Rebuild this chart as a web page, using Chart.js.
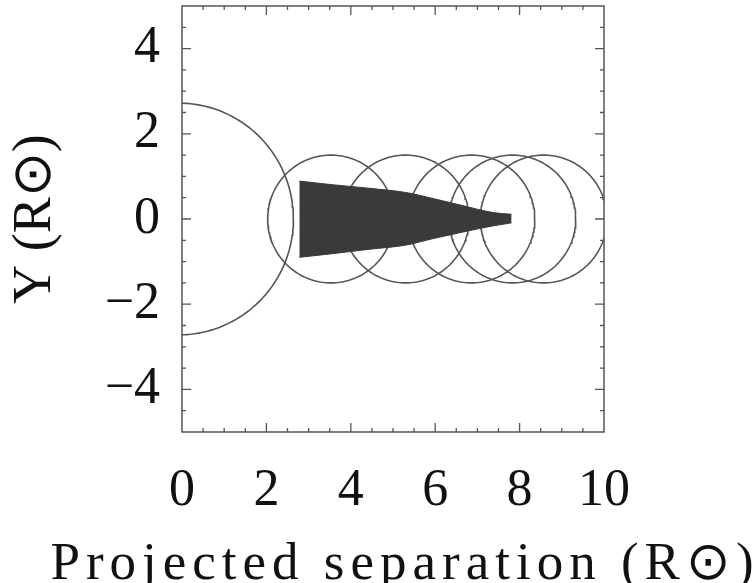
<!DOCTYPE html>
<html>
<head>
<meta charset="utf-8">
<script src="https://cdn.jsdelivr.net/npm/chart.js@4.4.1/dist/chart.umd.min.js"></script>
<style>
  html, body { margin: 0; padding: 0; background: #fff; }
  canvas { display: block; }
</style>
</head>
<body>
<canvas id="chart" width="754" height="583"></canvas>
<script>
// axis ticks
const xTicks = [0, 2, 4, 6, 8, 10];
const xTickLabels = ["0", "2", "4", "6", "8", "10"];
const yTicks = [-4, -2, 0, 2, 4];
const yTickLabels = ["\u22124", "\u22122", "0", "2", "4"];

// big circle round the origin
const bigCircleX = -0.08;
const bigCircleR = 2.72;

// small circles along the axis
const circleX = [3.53, 5.30, 6.86, 7.83, 8.57];
const circleR = [1.5, 1.5, 1.5, 1.5, 1.5];

// filled shape: upper and lower edge
const shapeX = [2.78, 3.51, 4.45, 5.32, 5.95, 6.59, 7.38, 7.81];
const shapeUpper = [0.89, 0.81, 0.72, 0.62, 0.48, 0.33, 0.15, 0.11];
const shapeLower = [-0.90, -0.82, -0.71, -0.61, -0.46, -0.32, -0.16, -0.09];

const ink = "#111";
const lineGray = "#555";
const fillGray = "#3a3a3a";

function circlePoints(cx, r) {
  const pts = [];
  for (let i = 0; i <= 180; i++) {
    const t = i / 180 * Math.PI * 2;
    pts.push({ x: cx + r * Math.cos(t), y: r * Math.sin(t) });
  }
  return pts;
}

const circleSets = [{ cx: bigCircleX, r: bigCircleR }]
  .concat(circleX.map((cx, i) => ({ cx: cx, r: circleR[i] })))
  .map(c => ({
    data: circlePoints(c.cx, c.r),
    borderColor: lineGray,
    borderWidth: 1.6,
    pointRadius: 0,
    fill: false,
    tension: 0,
    clip: 0
  }));

const shapeSets = [
  {
    data: shapeX.map((x, i) => ({ x: x, y: shapeUpper[i] })),
    borderColor: fillGray,
    borderWidth: 1,
    backgroundColor: fillGray,
    pointRadius: 0,
    fill: "+1",
    cubicInterpolationMode: "monotone"
  },
  {
    data: shapeX.map((x, i) => ({ x: x, y: shapeLower[i] })),
    borderColor: fillGray,
    borderWidth: 1,
    pointRadius: 0,
    fill: false,
    cubicInterpolationMode: "monotone"
  }
];

// frame and inward ticks on all four sides
const frameTicks = {
  id: "frameTicks",
  afterLayout(chart) {
    const xs = chart.scales.x;
    if (xs._spaced) return;
    const orig = xs.drawTitle.bind(xs);
    // the axis title is wider than the plot, so let it use the page width
    xs.drawTitle = function () {
      const c = this.ctx;
      const { left, right } = this;
      const prev = c.letterSpacing;
      this.left = 40;
      this.right = 770;
      c.letterSpacing = "6px";
      orig();
      c.letterSpacing = prev;
      this.left = left;
      this.right = right;
    };
    xs._spaced = true;
  },
  afterDatasetsDraw(chart) {
    const { ctx, chartArea: a, scales } = chart;
    ctx.save();
    ctx.strokeStyle = lineGray;
    ctx.lineWidth = 1.5;
    ctx.strokeRect(a.left, a.top, a.right - a.left, a.bottom - a.top);
    ctx.lineWidth = 1.3;
    ctx.beginPath();
    for (let v = scales.x.min + 0.5; v < scales.x.max; v += 0.5) {
      const len = xTicks.includes(v) ? 9 : 4;
      const px = scales.x.getPixelForValue(v);
      ctx.moveTo(px, a.bottom); ctx.lineTo(px, a.bottom - len);
      ctx.moveTo(px, a.top); ctx.lineTo(px, a.top + len);
    }
    for (let v = scales.y.min + 0.5; v < scales.y.max; v += 0.5) {
      const len = yTicks.includes(v) ? 9 : 4;
      const py = scales.y.getPixelForValue(v);
      ctx.moveTo(a.left, py); ctx.lineTo(a.left + len, py);
      ctx.moveTo(a.right, py); ctx.lineTo(a.right - len, py);
    }
    ctx.stroke();
    ctx.restore();
  }
};

new Chart(document.getElementById("chart"), {
  type: "line",
  data: { datasets: shapeSets.concat(circleSets) },
  plugins: [frameTicks],
  options: {
    responsive: false,
    animation: false,
    devicePixelRatio: 1,
    layout: { padding: { left: 0, top: 6, right: 150, bottom: 0 } },
    plugins: { legend: { display: false }, tooltip: { enabled: false } },
    scales: {
      x: {
        type: "linear",
        min: 0,
        max: 10,
        grid: { display: false, drawTicks: false },
        border: { display: false },
        afterBuildTicks: s => { s.ticks = xTicks.map(v => ({ value: v })); },
        afterFit: s => { s.height = 151; s.paddingLeft = 0; s.paddingRight = 0; },
        ticks: {
          color: ink,
          padding: 28,
          maxRotation: 0,
          font: { family: "Liberation Serif", size: 52 },
          callback: v => xTickLabels[xTicks.indexOf(v)]
        },
        title: {
          display: true,
          text: "Projected separation (R\u2299)",
          color: ink,
          padding: { top: 0, bottom: -14 },
          font: { family: "Liberation Serif", size: 53 }
        }
      },
      y: {
        type: "linear",
        min: -5,
        max: 5,
        grid: { display: false, drawTicks: false },
        border: { display: false },
        afterBuildTicks: s => { s.ticks = yTicks.map(v => ({ value: v })); },
        afterFit: s => { s.width = 182; s.paddingTop = 0; s.paddingBottom = 0; },
        ticks: {
          color: ink,
          padding: 22,
          font: { family: "Liberation Serif", size: 52 },
          callback: v => yTickLabels[yTicks.indexOf(v)]
        },
        title: {
          display: true,
          text: "Y (R\u2299)",
          color: ink,
          padding: { top: 3, bottom: 0 },
          font: { family: "Liberation Serif", size: 54 }
        }
      }
    }
  }
});
</script>
</body>
</html>
